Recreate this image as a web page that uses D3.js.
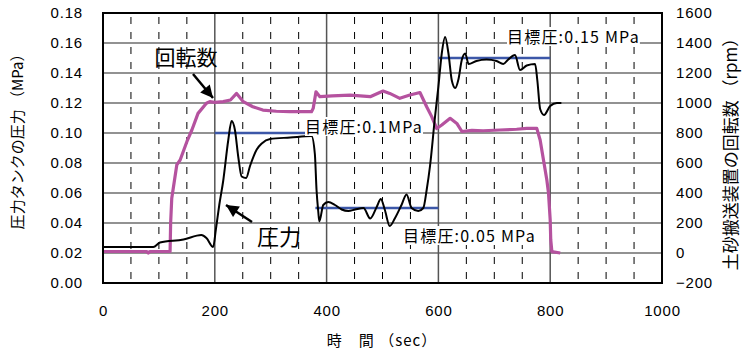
<!DOCTYPE html>
<html>
<head>
<meta charset="utf-8">
<script src="https://cdn.jsdelivr.net/npm/d3@7"></script>
<style>
  body { margin: 0; background: #fff; }
  text { font-family: "Noto Sans CJK JP", "Noto Sans", sans-serif; fill: #000; }
  .tick text { font-size: 15px; font-family: "Liberation Sans", Arial, sans-serif; letter-spacing: 0.8px; }
</style>
</head>
<body>
<svg id="chart" width="746" height="353"></svg>
<script>
// pressure tank pressure (MPa) vs time (sec)
const pressureTime = [0, 90, 102, 144, 176, 185, 197, 202, 208, 215, 224, 230, 236, 242, 248, 256, 263, 275, 284, 299, 335, 373, 379, 382, 385, 387,
  394, 403, 415, 427, 439, 451, 466, 478, 490, 497, 504, 513, 522, 534, 543, 552, 564, 573, 579, 585, 594, 600, 606, 612, 618, 624, 630, 636,
  642, 648, 654, 668, 686, 704, 716, 725, 737, 746, 758, 773, 777, 782, 789, 800, 812, 820];
const pressureValues = [0.024, 0.024, 0.027, 0.029, 0.032, 0.030, 0.024, 0.036, 0.052, 0.068, 0.095, 0.108, 0.102, 0.084, 0.071, 0.070, 0.078, 0.089, 0.093, 0.096, 0.097, 0.098, 0.086, 0.062, 0.048, 0.041,
  0.052, 0.054, 0.052, 0.049, 0.048, 0.049, 0.050, 0.043, 0.051, 0.056, 0.049, 0.038, 0.043, 0.052, 0.059, 0.050, 0.048, 0.050, 0.062, 0.078, 0.111, 0.131, 0.153, 0.164, 0.153, 0.135, 0.130, 0.136,
  0.149, 0.153, 0.146, 0.148, 0.149, 0.148, 0.146, 0.149, 0.152, 0.142, 0.145, 0.146, 0.135, 0.116, 0.112, 0.118, 0.120, 0.120];

// rotation speed (rpm) vs time (sec)
const rpmTime = [0, 78, 81, 84, 120, 121, 123, 132, 138, 150, 159, 170, 185, 191, 200, 215, 228, 239, 251, 268, 286, 310, 334, 373, 376, 381, 388, 410, 442, 478, 501, 513, 531, 549, 567,
  579, 588, 597, 606, 621, 633, 642, 660, 680, 710, 740, 758, 776, 782, 788, 794, 797, 800, 801, 803, 818];
const rpmValues = [10, 10, 0, 10, 10, 200, 365, 587, 620, 742, 820, 931, 998, 1009, 1004, 1009, 1020, 1064, 1009, 975, 953, 945, 942, 942, 964, 1075, 1042, 1048, 1053, 1042, 1080, 1064, 1031, 1053, 1070,
  975, 909, 830, 853, 898, 864, 810, 818, 815, 820, 825, 831, 831, 753, 620, 487, 398, 220, 87, 9, 0];

// target pressure segments
const targetStart = [200, 380, 600];
const targetEnd = [400, 600, 800];
const targetValue = [0.10, 0.05, 0.15];

const xTicks = [0, 200, 400, 600, 800, 1000];
const yLeftTicks = [0, 0.02, 0.04, 0.06, 0.08, 0.10, 0.12, 0.14, 0.16, 0.18];
const yRightTicks = [-200, 0, 200, 400, 600, 800, 1000, 1200, 1400, 1600];

const svg = d3.select("#chart");
const margin = {top: 13, right: 84, bottom: 70, left: 103};
const width = 746 - margin.left - margin.right;
const height = 353 - margin.top - margin.bottom;

const g = svg.append("g").attr("transform", "translate(" + margin.left + "," + margin.top + ")");

const x = d3.scaleLinear().domain([0, 1000]).range([0, width]);
const yL = d3.scaleLinear().domain([0, 0.18]).range([height, 0]);
const yR = d3.scaleLinear().domain([-200, 1600]).range([height, 0]);

// dashed minor verticals every 50 sec
g.selectAll("line.minor").data(d3.range(50, 1000, 50).filter(d => d % 200 !== 0))
  .enter().append("line")
  .attr("x1", d => x(d)).attr("x2", d => x(d))
  .attr("y1", 0).attr("y2", height)
  .attr("stroke", "#000").attr("stroke-width", 1)
  .attr("stroke-dasharray", "7,8").attr("stroke-dashoffset", -4);

// horizontal grid
g.selectAll("line.hgrid").data(yLeftTicks.slice(1, -1))
  .enter().append("line")
  .attr("x1", 0).attr("x2", width)
  .attr("y1", d => yL(d)).attr("y2", d => yL(d))
  .attr("stroke", "#6e6e6e").attr("stroke-width", 1.5);

// major verticals
g.selectAll("line.vgrid").data(xTicks.slice(1, -1))
  .enter().append("line")
  .attr("x1", d => x(d)).attr("x2", d => x(d))
  .attr("y1", 0).attr("y2", height)
  .attr("stroke", "#555").attr("stroke-width", 1.5);

// target labels (white back)
function label(txt, lx, ly, anchor) {
  const t = g.append("text").attr("x", lx).attr("y", ly)
    .attr("text-anchor", anchor).style("font-size", "16px").style("letter-spacing", "1.2px").text(txt);
  const b = t.node().getBBox();
  g.insert("rect", function() { return t.node(); })
    .attr("x", b.x).attr("y", b.y + 3).attr("width", b.width).attr("height", b.height - 5)
    .attr("fill", "#fff");
}

// target lines
targetValue.forEach((v, i) => {
  g.append("line")
    .attr("x1", x(targetStart[i])).attr("x2", x(targetEnd[i]))
    .attr("y1", yL(v)).attr("y2", yL(v))
    .attr("stroke", "#3c57a8").attr("stroke-width", 2.5);
});

// rpm line
g.append("path").datum(rpmTime.map((t, i) => [t, rpmValues[i]]))
  .attr("d", d3.line().x(d => x(d[0])).y(d => yR(d[1])))
  .attr("fill", "none").attr("stroke", "#b5529f").attr("stroke-width", 3.2)
  .attr("stroke-linejoin", "round");

// pressure line
g.append("path").datum(pressureTime.map((t, i) => [t, pressureValues[i]]))
  .attr("d", d3.line().curve(d3.curveMonotoneX).x(d => x(d[0])).y(d => yL(d[1])))
  .attr("fill", "none").attr("stroke", "#000").attr("stroke-width", 2)
  .attr("stroke-linejoin", "round");

label("目標圧:0.1MPa", 202, 120, "start");
label("目標圧:0.05 MPa", 300, 229, "start");
label("目標圧:0.15 MPa", 404, 30, "start");

// frame
g.append("rect").attr("width", width).attr("height", height)
  .attr("fill", "none").attr("stroke", "#000").attr("stroke-width", 2);

// axes
const xAxis = g.append("g").attr("transform", "translate(0," + height + ")")
  .call(d3.axisBottom(x).tickValues(xTicks).tickFormat(d3.format("d")).tickSize(0).tickPadding(22));
const yAxisL = g.append("g")
  .call(d3.axisLeft(yL).tickValues(yLeftTicks).tickFormat(d3.format(".2f")).tickSize(0).tickPadding(20));
const yAxisR = g.append("g").attr("transform", "translate(" + width + ",0)")
  .call(d3.axisRight(yR).tickValues(yRightTicks).tickFormat(d => d < 0 ? "\u2212" + Math.abs(d) : String(d)).tickSize(0).tickPadding(14));
[xAxis, yAxisL, yAxisR].forEach(a => a.select(".domain").remove());

// axis titles
svg.append("text").attr("x", 382).attr("y", 346)
  .attr("text-anchor", "middle").style("font-size", "15px").style("letter-spacing", "1px").text("時　間 （sec）");
svg.append("text").attr("transform", "translate(23," + (margin.top + height / 2 - 10) + ") rotate(-90)")
  .attr("text-anchor", "middle").style("font-size", "15px").text("圧力タンクの圧力 （MPa）");
svg.append("text").attr("transform", "translate(737," + (margin.top + height / 2 + 2) + ") rotate(-90)")
  .attr("text-anchor", "middle").style("font-size", "17px").text("土砂搬送装置の回転数 （rpm）");

// annotations with arrows
svg.append("defs").append("marker").attr("id", "head")
  .attr("viewBox", "0 0 10 10").attr("refX", 10).attr("refY", 5)
  .attr("markerWidth", 5.5).attr("markerHeight", 5).attr("orient", "auto")
  .append("path").attr("d", "M0,0 L10,5 L0,10 z").attr("fill", "#000");

svg.append("text").attr("x", 186).attr("y", 65).attr("text-anchor", "middle")
  .style("font-size", "21px").text("回転数");
svg.append("line").attr("x1", 193).attr("y1", 74).attr("x2", 213).attr("y2", 98)
  .attr("stroke", "#000").attr("stroke-width", 2.5).attr("marker-end", "url(#head)");

svg.append("text").attr("x", 279).attr("y", 245).attr("text-anchor", "middle")
  .style("font-size", "22px").text("圧力");
svg.append("line").attr("x1", 252).attr("y1", 222).attr("x2", 226).attr("y2", 205)
  .attr("stroke", "#000").attr("stroke-width", 2.5).attr("marker-end", "url(#head)");
</script>
</body>
</html>
